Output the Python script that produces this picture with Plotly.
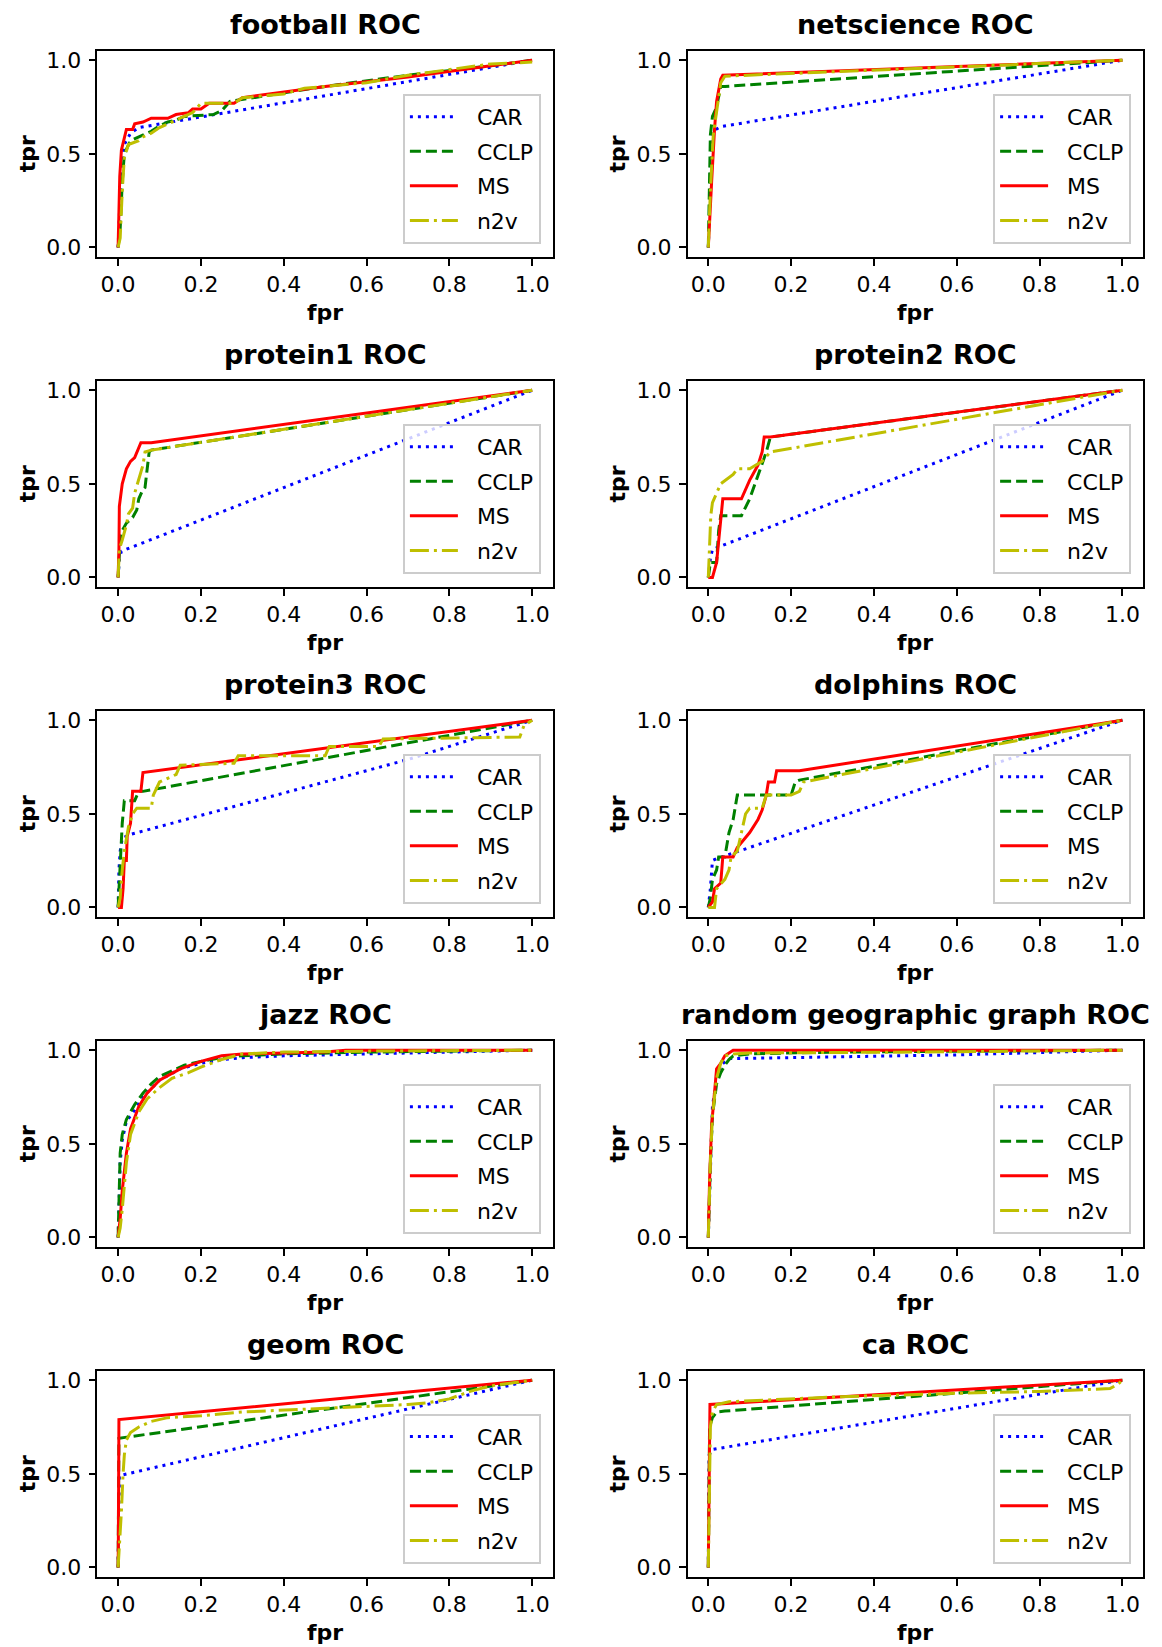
"""
ROC curves of four link-prediction methods (CAR, CCLP, MS, n2v)
on ten networks, drawn as a 5 x 2 grid of small plots.
"""

import plotly.graph_objects as go

# ---------------------------------------------------------------------------
# Data (fpr / tpr points)
# ---------------------------------------------------------------------------

METHODS = ["CAR", "CCLP", "MS", "n2v"]
TITLES = [
    "football ROC", "netscience ROC",
    "protein1 ROC", "protein2 ROC",
    "protein3 ROC", "dolphins ROC",
    "jazz ROC", "random geographic graph ROC",
    "geom ROC", "ca ROC",
]
X_TICKS = [0.0, 0.2, 0.4, 0.6, 0.8, 1.0]
Y_TICKS = [0.0, 0.5, 1.0]

# football
FOOTBALL_CAR_FPR = [0, 0.003, 0.008, 0.015, 0.03, 0.05, 1.0]
FOOTBALL_CAR_TPR = [0, 0.2, 0.45, 0.55, 0.61, 0.64, 1.0]
FOOTBALL_CCLP_FPR = [0, 0.005, 0.01, 0.015, 0.03, 0.06, 0.08, 0.1, 0.12, 0.14, 0.16, 0.23, 0.25, 0.27, 0.3, 0.32, 0.5, 0.7, 0.9, 1.0]
FOOTBALL_CCLP_TPR = [0, 0.1, 0.35, 0.5, 0.57, 0.6, 0.62, 0.65, 0.67, 0.68, 0.7, 0.71, 0.73, 0.78, 0.79, 0.8, 0.86, 0.92, 0.97, 1.0]
FOOTBALL_MS_FPR = [0, 0.002, 0.004, 0.008, 0.015, 0.02, 0.035, 0.04, 0.06, 0.08, 0.12, 0.14, 0.17, 0.18, 0.2, 0.22, 0.28, 0.3, 0.5, 0.7, 0.9, 1.0]
FOOTBALL_MS_TPR = [0, 0.15, 0.38, 0.52, 0.58, 0.63, 0.63, 0.66, 0.67, 0.69, 0.69, 0.71, 0.72, 0.74, 0.74, 0.77, 0.77, 0.8, 0.86, 0.91, 0.97, 1.0]
FOOTBALL_N2V_FPR = [0, 0.005, 0.01, 0.015, 0.025, 0.05, 0.06, 0.08, 0.1, 0.13, 0.16, 0.18, 0.2, 0.28, 0.3, 0.4, 0.45, 0.6, 0.7, 0.8, 0.9, 1.0]
FOOTBALL_N2V_TPR = [0, 0.05, 0.3, 0.48, 0.55, 0.57, 0.59, 0.61, 0.64, 0.67, 0.7, 0.72, 0.77, 0.77, 0.8, 0.82, 0.85, 0.88, 0.92, 0.95, 0.98, 0.99]

# netscience
NETSCIENCE_CAR_FPR = [0, 0.005, 0.01, 0.03, 1.0]
NETSCIENCE_CAR_TPR = [0, 0.35, 0.62, 0.645, 1.0]
NETSCIENCE_CCLP_FPR = [0, 0.002, 0.005, 0.01, 0.02, 0.03, 0.04, 1.0]
NETSCIENCE_CCLP_TPR = [0, 0.3, 0.6, 0.7, 0.75, 0.86, 0.86, 1.0]
NETSCIENCE_MS_FPR = [0, 0.003, 0.008, 0.015, 0.02, 0.03, 0.035, 1.0]
NETSCIENCE_MS_TPR = [0, 0.15, 0.35, 0.63, 0.78, 0.9, 0.92, 1.0]
NETSCIENCE_N2V_FPR = [0, 0.005, 0.012, 0.02, 0.03, 0.04, 1.0]
NETSCIENCE_N2V_TPR = [0, 0.3, 0.6, 0.72, 0.88, 0.915, 1.0]

# protein1
PROTEIN1_CAR_FPR = [0, 0.003, 0.008, 1.0]
PROTEIN1_CAR_TPR = [0, 0.1, 0.14, 1.0]
PROTEIN1_CCLP_FPR = [0, 0.005, 0.01, 0.02, 0.035, 0.045, 0.05, 0.06, 0.065, 0.07, 0.075, 0.08, 1.0]
PROTEIN1_CCLP_TPR = [0, 0.2, 0.25, 0.29, 0.32, 0.36, 0.42, 0.47, 0.48, 0.58, 0.67, 0.68, 1.0]
PROTEIN1_MS_FPR = [0, 0.002, 0.003, 0.01, 0.02, 0.03, 0.04, 0.05, 0.055, 0.08, 1.0]
PROTEIN1_MS_TPR = [0, 0.15, 0.38, 0.5, 0.58, 0.62, 0.64, 0.7, 0.72, 0.72, 1.0]
PROTEIN1_N2V_FPR = [0, 0.003, 0.01, 0.02, 0.025, 0.035, 0.04, 0.05, 0.06, 0.065, 0.08, 1.0]
PROTEIN1_N2V_TPR = [0, 0.15, 0.2, 0.28, 0.34, 0.37, 0.45, 0.53, 0.6, 0.67, 0.68, 1.0]

# protein2
PROTEIN2_CAR_FPR = [0, 0.005, 0.01, 1.0]
PROTEIN2_CAR_TPR = [0, 0.1, 0.15, 1.0]
PROTEIN2_CCLP_FPR = [0, 0.005, 0.02, 0.025, 0.03, 0.08, 0.1, 0.12, 0.14, 0.15, 1.0]
PROTEIN2_CCLP_TPR = [0, 0.08, 0.08, 0.25, 0.33, 0.33, 0.42, 0.55, 0.67, 0.75, 1.0]
PROTEIN2_MS_FPR = [0, 0.01, 0.02, 0.035, 0.08, 0.09, 0.1, 0.12, 0.13, 0.135, 0.15, 1.0]
PROTEIN2_MS_TPR = [0, 0, 0.08, 0.42, 0.42, 0.47, 0.52, 0.6, 0.67, 0.75, 0.75, 1.0]
PROTEIN2_N2V_FPR = [0, 0.003, 0.006, 0.01, 0.03, 0.06, 0.07, 0.1, 0.13, 0.15, 1.0]
PROTEIN2_N2V_TPR = [0, 0.2, 0.33, 0.4, 0.5, 0.55, 0.58, 0.58, 0.62, 0.67, 1.0]

# protein3
PROTEIN3_CAR_FPR = [0, 0.002, 0.005, 0.01, 0.03, 0.7, 1.0]
PROTEIN3_CAR_TPR = [0, 0.2, 0.3, 0.37, 0.39, 0.79, 1.0]
PROTEIN3_CCLP_FPR = [0, 0.005, 0.01, 0.015, 0.04, 0.05, 0.06, 1.0]
PROTEIN3_CCLP_TPR = [0, 0.2, 0.45, 0.57, 0.57, 0.62, 0.62, 1.0]
PROTEIN3_MS_FPR = [0, 0.008, 0.012, 0.015, 0.02, 0.022, 0.03, 0.035, 0.055, 0.06, 1.0]
PROTEIN3_MS_TPR = [0, 0, 0.1, 0.25, 0.25, 0.38, 0.45, 0.62, 0.62, 0.72, 1.0]
PROTEIN3_N2V_FPR = [0, 0.005, 0.01, 0.015, 0.025, 0.035, 0.045, 0.08, 0.085, 0.1, 0.14, 0.15, 0.28, 0.29, 0.5, 0.51, 0.63, 0.64, 0.97, 0.98, 1.0]
PROTEIN3_N2V_TPR = [0, 0.05, 0.2, 0.3, 0.43, 0.5, 0.53, 0.53, 0.6, 0.67, 0.71, 0.76, 0.77, 0.81, 0.81, 0.86, 0.86, 0.9, 0.91, 0.97, 1.0]

# dolphins
DOLPHINS_CAR_FPR = [0, 0.005, 0.01, 0.02, 1.0]
DOLPHINS_CAR_TPR = [0, 0.1, 0.25, 0.26, 1.0]
DOLPHINS_CCLP_FPR = [0, 0.005, 0.01, 0.02, 0.025, 0.04, 0.05, 0.06, 0.07, 0.2, 0.21, 0.22, 1.0]
DOLPHINS_CCLP_TPR = [0, 0.05, 0.15, 0.2, 0.27, 0.27, 0.4, 0.47, 0.6, 0.6, 0.67, 0.68, 1.0]
DOLPHINS_MS_FPR = [0, 0.01, 0.015, 0.03, 0.035, 0.06, 0.07, 0.09, 0.1, 0.12, 0.13, 0.14, 0.145, 0.16, 0.165, 0.22, 1.0]
DOLPHINS_MS_TPR = [0, 0.03, 0.1, 0.13, 0.27, 0.27, 0.32, 0.37, 0.4, 0.47, 0.52, 0.6, 0.67, 0.67, 0.73, 0.73, 1.0]
DOLPHINS_N2V_FPR = [0, 0.015, 0.02, 0.04, 0.05, 0.055, 0.07, 0.08, 0.09, 0.1, 0.13, 0.14, 0.2, 0.22, 0.23, 1.0]
DOLPHINS_N2V_TPR = [0, 0, 0.1, 0.15, 0.2, 0.27, 0.3, 0.4, 0.5, 0.53, 0.53, 0.6, 0.6, 0.62, 0.67, 1.0]

# jazz
JAZZ_CAR_FPR = [0, 0.005, 0.01, 0.02, 0.04, 0.06, 0.1, 0.15, 0.2, 0.25, 0.3, 0.4, 0.6, 0.8, 1.0]
JAZZ_CAR_TPR = [0, 0.4, 0.52, 0.62, 0.68, 0.75, 0.84, 0.9, 0.93, 0.95, 0.96, 0.97, 0.98, 0.99, 1.0]
JAZZ_CCLP_FPR = [0, 0.003, 0.005, 0.01, 0.02, 0.04, 0.06, 0.08, 0.1, 0.13, 0.16, 0.2, 0.25, 0.3, 0.4, 0.6, 0.8, 1.0]
JAZZ_CCLP_TPR = [0, 0.3, 0.45, 0.55, 0.63, 0.71, 0.77, 0.82, 0.86, 0.89, 0.92, 0.94, 0.96, 0.97, 0.98, 0.99, 0.995, 1.0]
JAZZ_MS_FPR = [0, 0.005, 0.01, 0.02, 0.03, 0.05, 0.07, 0.1, 0.15, 0.2, 0.25, 0.3, 0.4, 0.5, 0.55, 1.0]
JAZZ_MS_TPR = [0, 0.1, 0.25, 0.45, 0.58, 0.7, 0.77, 0.84, 0.9, 0.94, 0.97, 0.98, 0.985, 0.99, 1.0, 1.0]
JAZZ_N2V_FPR = [0, 0.005, 0.01, 0.02, 0.03, 0.05, 0.07, 0.1, 0.13, 0.17, 0.2, 0.25, 0.3, 0.4, 0.6, 1.0]
JAZZ_N2V_TPR = [0, 0.05, 0.15, 0.4, 0.55, 0.67, 0.74, 0.8, 0.85, 0.88, 0.91, 0.95, 0.98, 0.99, 0.995, 1.0]

# random geographic graph
RGG_CAR_FPR = [0, 0.005, 0.01, 0.02, 0.03, 0.05, 0.2, 0.6, 1.0]
RGG_CAR_TPR = [0, 0.4, 0.7, 0.85, 0.92, 0.955, 0.96, 0.975, 1.0]
RGG_CCLP_FPR = [0, 0.005, 0.01, 0.02, 0.03, 0.04, 0.05, 0.06, 0.1, 0.3, 1.0]
RGG_CCLP_TPR = [0, 0.4, 0.65, 0.82, 0.88, 0.92, 0.95, 0.97, 0.98, 0.99, 1.0]
RGG_MS_FPR = [0, 0.003, 0.008, 0.015, 0.02, 0.03, 0.04, 0.06, 1.0]
RGG_MS_TPR = [0, 0.3, 0.6, 0.8, 0.9, 0.93, 0.97, 1.0, 1.0]
RGG_N2V_FPR = [0, 0.005, 0.01, 0.02, 0.03, 0.04, 0.06, 0.1, 0.5, 1.0]
RGG_N2V_TPR = [0, 0.4, 0.65, 0.85, 0.93, 0.97, 0.98, 0.985, 0.99, 1.0]

# geom
GEOM_CAR_FPR = [0, 0.001, 0.003, 1.0]
GEOM_CAR_TPR = [0, 0.3, 0.49, 1.0]
GEOM_CCLP_FPR = [0, 0.001, 0.002, 1.0]
GEOM_CCLP_TPR = [0, 0.5, 0.69, 1.0]
GEOM_MS_FPR = [0, 0.0005, 0.002, 1.0]
GEOM_MS_TPR = [0, 0.1, 0.79, 1.0]
GEOM_N2V_FPR = [0, 0.003, 0.008, 0.012, 0.015, 0.02, 0.03, 0.05, 0.08, 0.12, 0.2, 0.3, 0.4, 0.5, 0.6, 0.7, 0.75, 0.8, 0.85, 0.9, 1.0]
GEOM_N2V_TPR = [0, 0.1, 0.3, 0.5, 0.6, 0.68, 0.72, 0.75, 0.78, 0.8, 0.81, 0.83, 0.84, 0.85, 0.86, 0.87, 0.88, 0.9, 0.94, 0.97, 1.0]

# ca
CA_CAR_FPR = [0, 0.001, 0.002, 0.01, 1.0]
CA_CAR_TPR = [0, 0.3, 0.6, 0.63, 1.0]
CA_CCLP_FPR = [0, 0.001, 0.003, 0.01, 0.02, 0.04, 1.0]
CA_CCLP_TPR = [0, 0.5, 0.75, 0.8, 0.83, 0.835, 1.0]
CA_MS_FPR = [0, 0.002, 0.004, 1.0]
CA_MS_TPR = [0, 0.3, 0.87, 1.0]
CA_N2V_FPR = [0, 0.002, 0.005, 0.01, 0.02, 0.05, 0.1, 0.3, 0.6, 0.8, 0.97, 0.99, 1.0]
CA_N2V_TPR = [0, 0.4, 0.75, 0.83, 0.87, 0.885, 0.89, 0.91, 0.93, 0.94, 0.955, 0.98, 1.0]

PANELS = [
    [(FOOTBALL_CAR_FPR, FOOTBALL_CAR_TPR), (FOOTBALL_CCLP_FPR, FOOTBALL_CCLP_TPR),
     (FOOTBALL_MS_FPR, FOOTBALL_MS_TPR), (FOOTBALL_N2V_FPR, FOOTBALL_N2V_TPR)],
    [(NETSCIENCE_CAR_FPR, NETSCIENCE_CAR_TPR), (NETSCIENCE_CCLP_FPR, NETSCIENCE_CCLP_TPR),
     (NETSCIENCE_MS_FPR, NETSCIENCE_MS_TPR), (NETSCIENCE_N2V_FPR, NETSCIENCE_N2V_TPR)],
    [(PROTEIN1_CAR_FPR, PROTEIN1_CAR_TPR), (PROTEIN1_CCLP_FPR, PROTEIN1_CCLP_TPR),
     (PROTEIN1_MS_FPR, PROTEIN1_MS_TPR), (PROTEIN1_N2V_FPR, PROTEIN1_N2V_TPR)],
    [(PROTEIN2_CAR_FPR, PROTEIN2_CAR_TPR), (PROTEIN2_CCLP_FPR, PROTEIN2_CCLP_TPR),
     (PROTEIN2_MS_FPR, PROTEIN2_MS_TPR), (PROTEIN2_N2V_FPR, PROTEIN2_N2V_TPR)],
    [(PROTEIN3_CAR_FPR, PROTEIN3_CAR_TPR), (PROTEIN3_CCLP_FPR, PROTEIN3_CCLP_TPR),
     (PROTEIN3_MS_FPR, PROTEIN3_MS_TPR), (PROTEIN3_N2V_FPR, PROTEIN3_N2V_TPR)],
    [(DOLPHINS_CAR_FPR, DOLPHINS_CAR_TPR), (DOLPHINS_CCLP_FPR, DOLPHINS_CCLP_TPR),
     (DOLPHINS_MS_FPR, DOLPHINS_MS_TPR), (DOLPHINS_N2V_FPR, DOLPHINS_N2V_TPR)],
    [(JAZZ_CAR_FPR, JAZZ_CAR_TPR), (JAZZ_CCLP_FPR, JAZZ_CCLP_TPR),
     (JAZZ_MS_FPR, JAZZ_MS_TPR), (JAZZ_N2V_FPR, JAZZ_N2V_TPR)],
    [(RGG_CAR_FPR, RGG_CAR_TPR), (RGG_CCLP_FPR, RGG_CCLP_TPR),
     (RGG_MS_FPR, RGG_MS_TPR), (RGG_N2V_FPR, RGG_N2V_TPR)],
    [(GEOM_CAR_FPR, GEOM_CAR_TPR), (GEOM_CCLP_FPR, GEOM_CCLP_TPR),
     (GEOM_MS_FPR, GEOM_MS_TPR), (GEOM_N2V_FPR, GEOM_N2V_TPR)],
    [(CA_CAR_FPR, CA_CAR_TPR), (CA_CCLP_FPR, CA_CCLP_TPR),
     (CA_MS_FPR, CA_MS_TPR), (CA_N2V_FPR, CA_N2V_TPR)],
]

# ---------------------------------------------------------------------------
# Styling (matplotlib look: b:, g--, r-, y-.)
# ---------------------------------------------------------------------------

COLORS = {"CAR": "#0000ff", "CCLP": "#008000", "MS": "#ff0000", "n2v": "#bfbf00"}
DASHES = {"CAR": "3px,5px", "CCLP": "11px,5px", "MS": "solid", "n2v": "19px,5px,3px,5px"}
FONT = "DejaVu Sans"
NBSP = "\u00a0"

W, H = 1162, 1647
COL_LEFT = [89.4, 679.6]     # px, left edge of each column's frame
FRAME_W = 455.5
ROW_TOP0 = 40.0
ROW_PITCH = 331.2
FRAME_H = 206.7

fig = go.Figure()
layout = dict(annotations=[])

for i, (title, series) in enumerate(zip(TITLES, PANELS)):
    n = i + 1
    row, col = divmod(i, 2)
    left = COL_LEFT[col]
    top = ROW_TOP0 + row * ROW_PITCH
    x0, x1 = left / W, (left + FRAME_W) / W
    y0, y1 = 1 - (top + FRAME_H) / H, 1 - top / H
    sfx = "" if n == 1 else str(n)
    leg = "legend" if n == 1 else f"legend{n}"

    for method, (fpr, tpr) in zip(METHODS, series):
        fig.add_trace(go.Scatter(
            x=fpr, y=tpr, mode="lines", name=NBSP * 2 + method,
            xaxis=f"x{sfx}", yaxis=f"y{sfx}",
            legend=leg, legendgroup=f"{n}-{method}",
            line=dict(color=COLORS[method], width=3, dash=DASHES[method]),
        ))

    axis_common = dict(
        range=[-0.05, 1.05], showgrid=False, zeroline=False,
        showline=True, mirror=True, linecolor="black", linewidth=1.6,
        ticks="outside", ticklen=7, tickwidth=1.6, tickcolor="black",
        tickformat=".1f", tickfont=dict(family=FONT, size=22, color="black"),
    )
    layout[f"xaxis{sfx}"] = dict(axis_common, domain=[x0, x1], anchor=f"y{sfx}",
                                 tickvals=X_TICKS)
    layout[f"yaxis{sfx}"] = dict(axis_common, domain=[y0, y1], anchor=f"x{sfx}",
                                 tickvals=Y_TICKS, ticklabelstandoff=3)

    layout[leg] = dict(
        x=(left + FRAME_W - 12) / W, y=1 - (top + FRAME_H - 13) / H,
        xanchor="right", yanchor="bottom",
        bgcolor="rgba(255,255,255,0.8)", bordercolor="#cccccc", borderwidth=2,
        font=dict(family=FONT, size=22, color="black"),
        tracegroupgap=3, itemwidth=48,
    )

    cx = (x0 + x1) / 2
    layout["annotations"] += [
        dict(text=f"<b>{title}</b>", x=cx, y=1 - (top - 26.5) / H,
             xref="paper", yref="paper", xanchor="center", yanchor="middle",
             showarrow=False, font=dict(family=FONT, size=27, color="black")),
        dict(text="<b>fpr</b>", x=cx, y=1 - (top + FRAME_H + 56) / H,
             xref="paper", yref="paper", xanchor="center", yanchor="middle",
             showarrow=False, font=dict(family=FONT, size=22, color="black")),
        dict(text="<b>tpr</b>", x=(left - 70) / W, y=(y0 + y1) / 2,
             xref="paper", yref="paper", xanchor="center", yanchor="middle",
             textangle=-90, showarrow=False,
             font=dict(family=FONT, size=22, color="black")),
    ]

fig.update_layout(
    **layout,
    width=W, height=H, autosize=False,
    margin=dict(l=0, r=0, t=0, b=0, pad=0),
    paper_bgcolor="white", plot_bgcolor="white",
    showlegend=True,
)

fig.write_html("out.html")
